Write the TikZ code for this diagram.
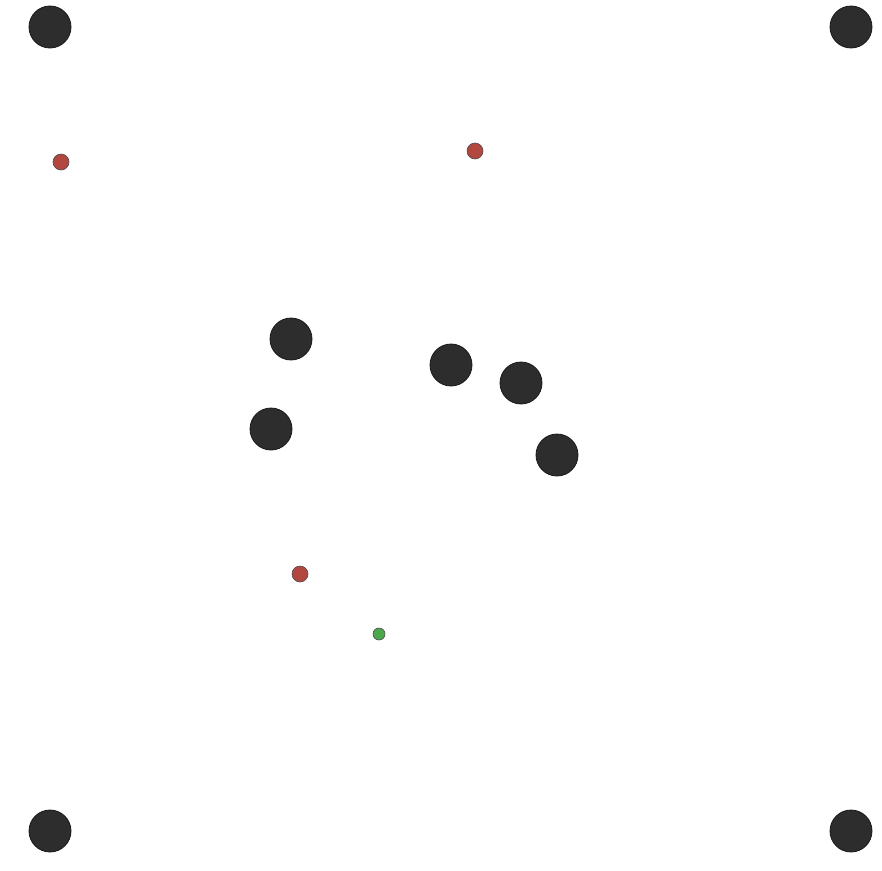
\documentclass[tikz,border=0pt]{standalone}
\usepackage{tikz}

\definecolor{obst}{HTML}{2D2D2D}
\definecolor{goalred}{HTML}{B2473F}
\definecolor{startgreen}{HTML}{4CA64C}

\begin{document}
\begin{tikzpicture}[x=1pt,y=-1pt,
  big/.style={circle,draw=black!90,fill=obst,line width=0.8pt,minimum size=42pt,inner sep=0pt},
  red/.style={circle,draw=black!70,fill=goalred,line width=0.6pt,minimum size=16pt,inner sep=0pt},
  grn/.style={circle,draw=black!70,fill=startgreen,line width=0.6pt,minimum size=12pt,inner sep=0pt}]

  \useasboundingbox[fill=white] (0,0) rectangle (882,870);

  % corner obstacles
  \node[big] (c1) at (50,27)  {};
  \node[big] (c2) at (851,27) {};
  \node[big] (c3) at (50,831) {};
  \node[big] (c4) at (851,831) {};

  % inner obstacles
  \node[big] (o1) at (291,339) {};
  \node[big] (o2) at (451,365) {};
  \node[big] (o3) at (521,383) {};
  \node[big] (o4) at (271,429) {};
  \node[big] (o5) at (557,455) {};

  % targets
  \node[red] (t1) at (61,162)  {};
  \node[red] (t2) at (475,151) {};
  \node[red] (t3) at (300,574) {};

  % agent
  \node[grn] (s) at (379,634) {};
\end{tikzpicture}
\end{document}
